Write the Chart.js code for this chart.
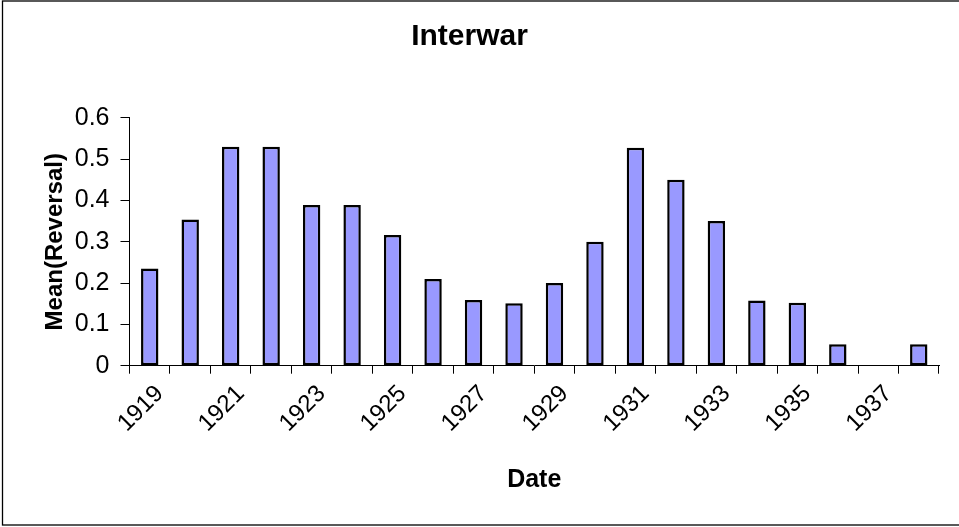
<!DOCTYPE html>
<html>
<head>
<meta charset="utf-8">
<title>Interwar</title>
<script src="https://cdn.jsdelivr.net/npm/chart.js@4/dist/chart.umd.min.js"></script>
<style>
  html, body { margin: 0; padding: 0; background: #fff; }
  #chart { display: block; }
</style>
</head>
<body>
<canvas id="chart" width="959" height="527"></canvas>
<script>
'use strict';

const YEARS = ['1919', '1920', '1921', '1922', '1923', '1924', '1925', '1926', '1927', '1928',
  '1929', '1930', '1931', '1932', '1933', '1934', '1935', '1936', '1937', '1938'];
const MEAN_REVERSAL = [0.235, 0.354, 0.530, 0.530, 0.389, 0.389, 0.316, 0.210, 0.159, 0.151,
  0.200, 0.300, 0.527, 0.450, 0.350, 0.158, 0.152, 0.052, null, 0.052];
const Y_TICKS = [0, 0.1, 0.2, 0.3, 0.4, 0.5, 0.6];

const FONT = "'Liberation Sans', Arial, sans-serif";

// white background + frame like the Excel chart area
const frame = {
  id: 'frame',
  beforeDraw(chart) {
    const ctx = chart.ctx;
    ctx.save();
    ctx.fillStyle = '#fff';
    ctx.fillRect(0, 0, chart.width, chart.height);
    ctx.strokeStyle = '#000';
    ctx.lineWidth = 1.3;
    ctx.strokeRect(2.5, 1, chart.width + 5, chart.height - 3);
    ctx.restore();
  }
};

new Chart(document.getElementById('chart').getContext('2d'), {
  type: 'bar',
  data: {
    labels: YEARS,
    datasets: [{
      label: 'Mean(Reversal)',
      data: MEAN_REVERSAL,
      backgroundColor: '#9999ff',
      borderColor: '#000',
      borderWidth: 2.5,
      borderSkipped: false,
      categoryPercentage: 1,
      barPercentage: 0.43
    }]
  },
  options: {
    responsive: false,
    animation: false,
    devicePixelRatio: 1,
    layout: { padding: { left: 0, right: 20, top: 0, bottom: 0 } },
    plugins: {
      legend: { display: false },
      tooltip: { enabled: false },
      title: {
        display: true,
        text: 'Interwar',
        color: '#000',
        font: { family: FONT, size: 30, weight: 'bold' },
        padding: { top: 19, bottom: 62.7 }
      }
    },
    scales: {
      x: {
        grid: { display: true, drawOnChartArea: false, drawTicks: true, tickLength: 8, color: '#000', offset: true },
        border: { display: true, color: '#000', width: 1 },
        ticks: {
          color: '#000',
          font: { family: FONT, size: 24 },
          autoSkip: false,
          minRotation: 45,
          maxRotation: 45,
          padding: 6,
          labelOffset: 10,
          callback: (v, i) => (i % 2 === 0 ? YEARS[i] : '')
        },
        title: {
          display: true,
          text: 'Date',
          color: '#000',
          font: { family: FONT, size: 25, weight: 'bold' },
          padding: { top: 0, bottom: 32 }
        },
        afterFit: scale => { scale.height = 161.3; }
      },
      y: {
        min: 0,
        max: 0.6,
        grid: { display: true, drawOnChartArea: false, drawTicks: true, tickLength: 9, color: '#000' },
        border: { display: true, color: '#000', width: 1 },
        afterBuildTicks: scale => { scale.ticks = Y_TICKS.map(v => ({ value: v })); },
        ticks: {
          color: '#000',
          font: { family: FONT, size: 25 },
          padding: 11,
          callback: v => String(Number(v.toFixed(1)))
        },
        title: {
          display: true,
          text: 'Mean(Reversal)',
          color: '#000',
          font: { family: FONT, size: 24, weight: 'bold' },
          padding: { top: 40.6, bottom: 0 }
        },
        afterFit: scale => { scale.width = 129.5; }
      }
    }
  },
  plugins: [frame]
});
</script>
</body>
</html>
